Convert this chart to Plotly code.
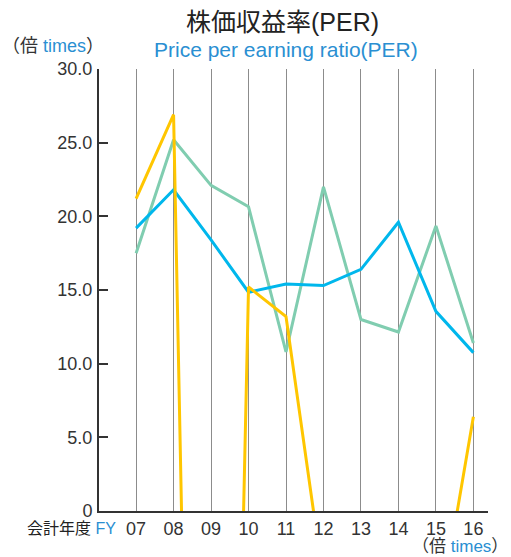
import plotly.graph_objects as go

years = ["07", "08", "09", "10", "11", "12", "13", "14", "15", "16"]
per_yellow = [21.2, 26.9, -100.0, 15.2, 13.2, -4.8, -5.5, -6.5, -8.5, 6.4]
per_blue = [19.2, 21.8, 18.4, 14.85, 15.4, 15.3, 16.4, 19.6, 13.55, 10.75]
per_green = [17.5, 25.2, 22.1, 20.65, 10.8, 22.0, 13.0, 12.15, 19.35, 11.4]
y_ticks = [0, 5, 10, 15, 20, 25, 30]
y_ticktext = ["0", "5.0", "10.0", "15.0", "20.0", "25.0", "30.0"]

xs = list(range(len(years)))
FONT = "Liberation Sans, Arial, Noto Sans CJK JP"
BLUE_TXT = "#2a8fd2"

fig = go.Figure()
for vals, col in [(per_green, "#80cdb0"), (per_blue, "#00b7ec"), (per_yellow, "#ffc600")]:
    fig.add_trace(go.Scatter(x=xs, y=vals, mode="lines",
                             line=dict(color=col, width=3), showlegend=False,
                             hoverinfo="skip"))

L, R, T, B = 99, 23, 69, 46
W, H = 511, 557
pw, ph = W - L - R, H - T - B

def px(x):
    return (x - L) / pw

def py(y):
    return (H - B - y) / ph

fig.update_layout(
    width=W, height=H,
    margin=dict(l=L, r=R, t=T, b=B),
    paper_bgcolor="white", plot_bgcolor="white",
    font=dict(family=FONT, color="#333333"),
    xaxis=dict(range=[-0.99, 9.39], tickvals=xs, ticktext=years,
               showgrid=True, gridcolor="#8c8c8c", gridwidth=1.4,
               zeroline=False, showline=True, linecolor="#333333", linewidth=2,
               ticks="", tickfont=dict(size=18, color="#333333")),
    yaxis=dict(range=[0, 30], tickvals=y_ticks, ticktext=y_ticktext,
               showgrid=False, zeroline=False, showline=True,
               linecolor="#333333", linewidth=2,
               ticks="inside", ticklen=9, tickwidth=1.5, tickcolor="#333333",
               ticklabelstandoff=1,
               tickfont=dict(size=18, color="#333333")),
    annotations=[
        dict(text="株価収益率(PER)", x=px(282), y=py(22), xref="paper", yref="paper",
             showarrow=False, font=dict(size=25, color="#222222"),
             xanchor="center", yanchor="middle"),
        dict(text="Price per earning ratio(PER)", x=px(286), y=py(50),
             xref="paper", yref="paper", showarrow=False,
             font=dict(size=21, color=BLUE_TXT), xanchor="center", yanchor="middle"),
        dict(text="（倍 <span style='color:%s'>times</span>）" % BLUE_TXT,
             x=px(0), y=py(46), xref="paper", yref="paper", showarrow=False,
             font=dict(size=18, color="#333333"), xanchor="left", yanchor="middle"),
        dict(text="会計年度 <span style='color:%s'>FY</span>" % BLUE_TXT,
             x=px(118), y=py(528), xref="paper", yref="paper", showarrow=False,
             font=dict(size=16, color="#222222"), xanchor="right", yanchor="middle"),
        dict(text="（倍 <span style='color:%s'>times</span>）" % BLUE_TXT,
             x=px(509), y=py(557), xref="paper", yref="paper", showarrow=False,
             font=dict(size=17, color="#333333"), xanchor="right", yanchor="bottom",
             borderpad=0),
    ],
)

fig.write_html("out.html", config={"displayModeBar": False},
               post_script="document.body.style.margin='0';")
